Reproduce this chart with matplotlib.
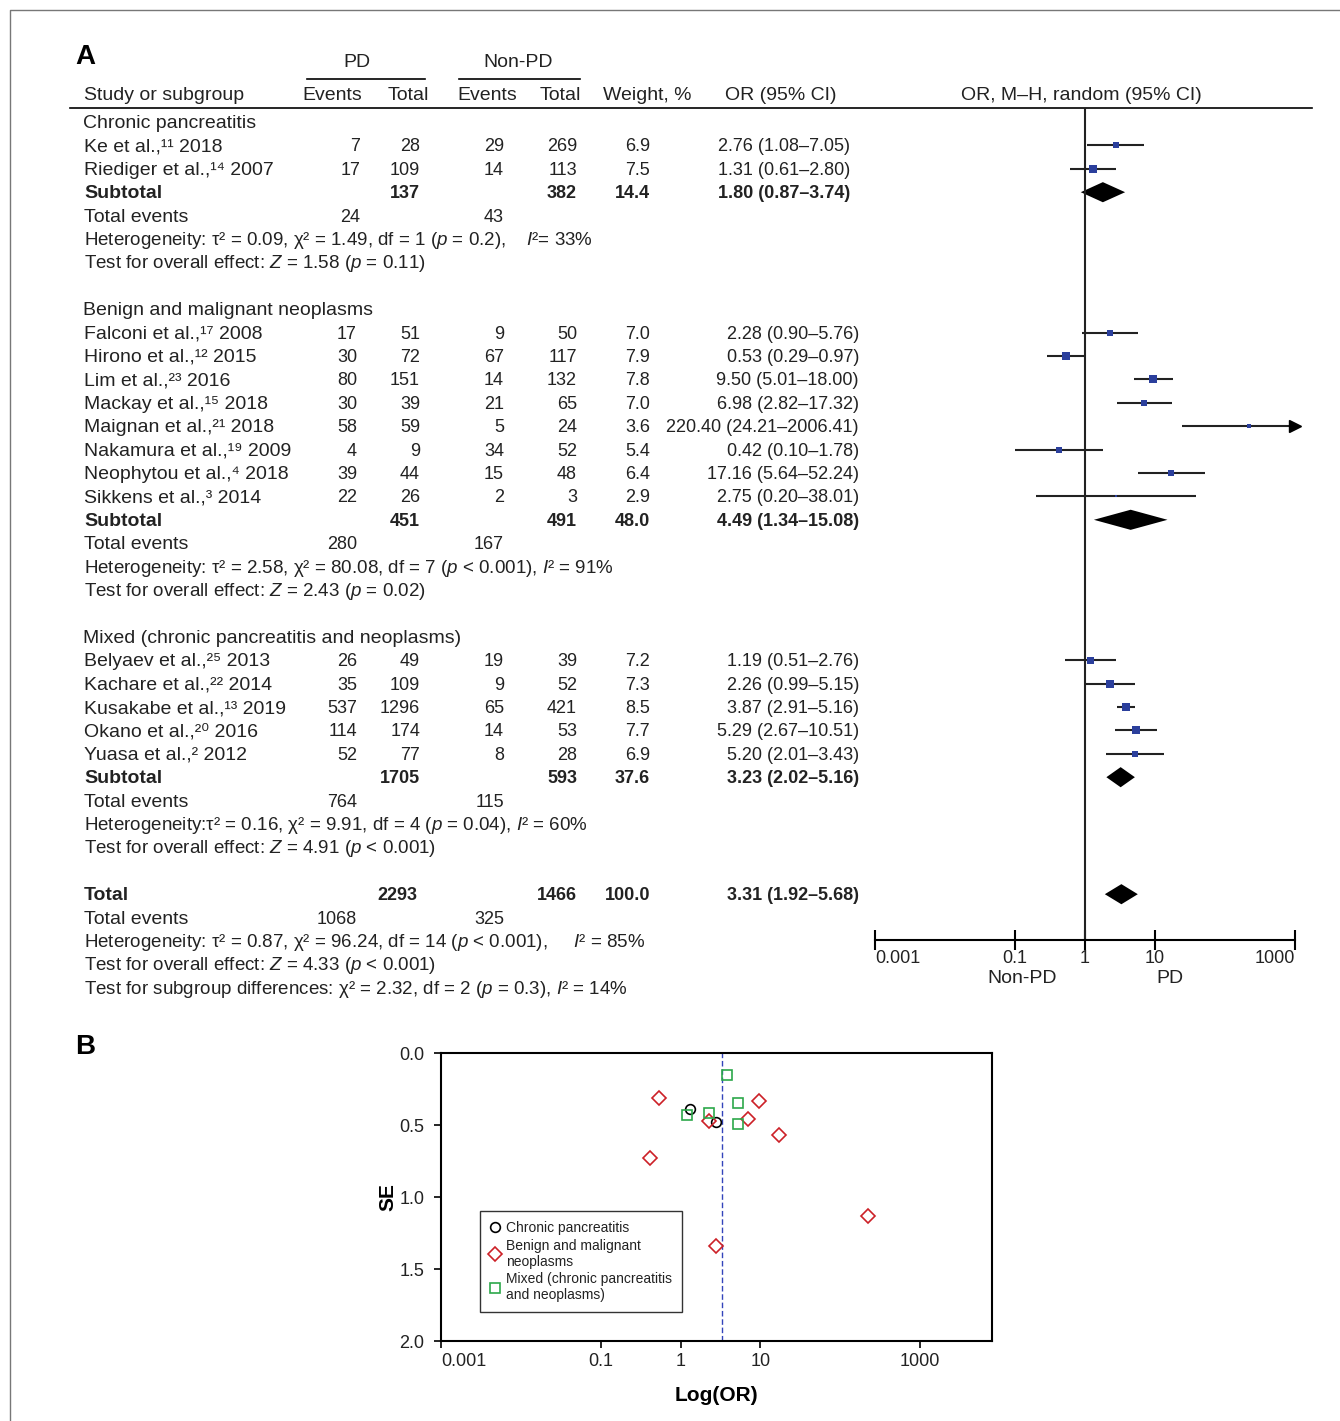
import matplotlib
matplotlib.use('Agg')
import matplotlib.pyplot as plt
from matplotlib.lines import Line2D
import numpy as np

plt.rcParams['font.family'] = ['Liberation Sans', 'DejaVu Sans']
plt.rcParams['mathtext.fontset'] = 'custom'
plt.rcParams['mathtext.rm'] = 'Liberation Sans'
plt.rcParams['mathtext.it'] = 'Liberation Sans:italic'
plt.rcParams['mathtext.bf'] = 'Liberation Sans:bold'

# ---- data ----
groups = ['Chronic pancreatitis', 'Benign and malignant neoplasms',
          'Mixed (chronic pancreatitis and neoplasms)']
authors = ['Ke', 'Riediger', 'Falconi', 'Hirono', 'Lim', 'Mackay', 'Maignan', 'Nakamura',
           'Neophytou', 'Sikkens', 'Belyaev', 'Kachare', 'Kusakabe', 'Okano', 'Yuasa']
refs = ['¹¹', '¹⁴', '¹⁷', '¹²', '²³', '¹⁵', '²¹', '¹⁹', '⁴', '³', '²⁵', '²²', '¹³', '²⁰', '²']
years = [2018, 2007, 2008, 2015, 2016, 2018, 2018, 2009, 2018, 2014, 2013, 2014, 2019, 2016, 2012]
group_of = [0, 0, 1, 1, 1, 1, 1, 1, 1, 1, 2, 2, 2, 2, 2]
pd_events = [7, 17, 17, 30, 80, 30, 58, 4, 39, 22, 26, 35, 537, 114, 52]
pd_total = [28, 109, 51, 72, 151, 39, 59, 9, 44, 26, 49, 109, 1296, 174, 77]
npd_events = [29, 14, 9, 67, 14, 21, 5, 34, 15, 2, 19, 9, 65, 14, 8]
npd_total = [269, 113, 50, 117, 132, 65, 24, 52, 48, 3, 39, 52, 421, 53, 28]
weight = [6.9, 7.5, 7.0, 7.9, 7.8, 7.0, 3.6, 5.4, 6.4, 2.9, 7.2, 7.3, 8.5, 7.7, 6.9]
odds = [2.76, 1.31, 2.28, 0.53, 9.50, 6.98, 220.40, 0.42, 17.16, 2.75, 1.19, 2.26, 3.87, 5.29, 5.20]
ci_low = [1.08, 0.61, 0.90, 0.29, 5.01, 2.82, 24.21, 0.10, 5.64, 0.20, 0.51, 0.99, 2.91, 2.67, 2.01]
ci_high = [7.05, 2.80, 5.76, 0.97, 18.00, 17.32, 2006.41, 1.78, 52.24, 38.01, 2.76, 5.15, 5.16,
           10.51, 13.43]
ci_text = ['2.76 (1.08–7.05)', '1.31 (0.61–2.80)', '2.28 (0.90–5.76)', '0.53 (0.29–0.97)',
           '9.50 (5.01–18.00)', '6.98 (2.82–17.32)', '220.40 (24.21–2006.41)', '0.42 (0.10–1.78)',
           '17.16 (5.64–52.24)', '2.75 (0.20–38.01)', '1.19 (0.51–2.76)', '2.26 (0.99–5.15)',
           '3.87 (2.91–5.16)', '5.29 (2.67–10.51)', '5.20 (2.01–3.43)']
se = [0.48, 0.39, 0.47, 0.31, 0.33, 0.46, 1.13, 0.73, 0.57, 1.34, 0.43, 0.42, 0.15, 0.35, 0.49]

sub_pd_total = [137, 451, 1705]
sub_npd_total = [382, 491, 593]
sub_weight = [14.4, 48.0, 37.6]
sub_or = [1.80, 4.49, 3.23]
sub_low = [0.87, 1.34, 2.02]
sub_high = [3.74, 15.08, 5.16]
sub_pd_events = [24, 280, 764]
sub_npd_events = [43, 167, 115]
het_text = ['Heterogeneity: τ² = 0.09, χ² = 1.49, df = 1 ($p$ = 0.2),    $I$²= 33%',
            'Heterogeneity: τ² = 2.58, χ² = 80.08, df = 7 ($p$ < 0.001), $I$² = 91%',
            'Heterogeneity:τ² = 0.16, χ² = 9.91, df = 4 ($p$ = 0.04), $I$² = 60%']
effect_text = ['Test for overall effect: $Z$ = 1.58 ($p$ = 0.11)',
               'Test for overall effect: $Z$ = 2.43 ($p$ = 0.02)',
               'Test for overall effect: $Z$ = 4.91 ($p$ < 0.001)']

total_pd, total_npd, total_weight = 2293, 1466, 100.0
total_or, total_low, total_high = 3.31, 1.92, 5.68
total_pd_events, total_npd_events = 1068, 325
total_het = 'Heterogeneity: τ² = 0.87, χ² = 96.24, df = 14 ($p$ < 0.001),     $I$² = 85%'
total_effect = 'Test for overall effect: $Z$ = 4.33 ($p$ < 0.001)'
subgroup_test = 'Test for subgroup differences: χ² = 2.32, df = 2 ($p$ = 0.3), $I$² = 14%'

forest_ticks = [0.001, 0.1, 1, 10, 1000]
funnel_ticks = [0.001, 0.1, 1, 10, 1000]

# ---- layout (pixels) ----
W, H = 1340, 1421
ROW0, ROWH = 122, 23.4
FS = 14      # labels
FN = 13      # numbers
FH = 13.5    # statistics lines
x_name = 84
x_ev1, x_tot1, x_ev2, x_tot2, x_wt = 357, 420, 504, 577, 650
x_or = [850, 859, 859]
TXT = '#222222'

fig = plt.figure(figsize=(W / 100, H / 100), dpi=100)
bg = fig.add_axes([0, 0, 1, 1])
bg.set_xlim(0, W)
bg.set_ylim(H, 0)
bg.axis('off')


def ry(k):
    return ROW0 + ROWH * k


def txt(x, k, s, ha='left', bold=False, size=FS):
    # baseline placed ~6 px below the visual centre of the line
    bg.text(x, ry(k) + 6, s, ha=ha, va='baseline', fontsize=size,
            fontweight='bold' if bold else 'normal', color=TXT)


# outer frame
bg.plot([10, 10, W + 5], [H + 5, 10, 10], color='#777777', lw=1)

# header
bg.text(75, 64, 'A', fontsize=20, fontweight='bold', va='baseline', ha='left')
bg.text(357, 67, 'PD', fontsize=FS, ha='center', va='baseline', color=TXT)
bg.text(518, 67, 'Non-PD', fontsize=FS, ha='center', va='baseline', color=TXT)
bg.plot([307, 425], [79, 79], color='black', lw=1.2)
bg.plot([459, 580], [79, 79], color='black', lw=1.2)
for xh, s in [(84, 'Study or subgroup'), (332, 'Events'), (408, 'Total'), (487, 'Events'),
              (560, 'Total'), (647, 'Weight, %'), (781, 'OR (95% CI)'),
              (1081, 'OR, M–H, random (95% CI)')]:
    bg.text(xh, 100, s, fontsize=FS, ha='left' if xh == 84 else 'center', va='baseline',
            color=TXT)
bg.plot([70, 1312], [108, 108], color='black', lw=1.2)

# forest axes
fx0, fx1, fy_top, fy_bot = 875, 1295, 108, 940
fax = fig.add_axes([fx0 / W, 1 - fy_bot / H, (fx1 - fx0) / W, (fy_bot - fy_top) / H])
fax.set_xscale('log')
fax.set_xlim(0.001, 1000)
fax.set_ylim((fy_bot - ROW0) / ROWH, (fy_top - ROW0) / ROWH)
fax.patch.set_alpha(0)
for sp in ['top', 'left', 'right']:
    fax.spines[sp].set_visible(False)
fax.spines['bottom'].set_linewidth(1.5)
fax.set_yticks([])
fax.set_xticks(forest_ticks)
fax.set_xticklabels(['0.001', '0.1', '1', '10', '1000'])
fax.minorticks_off()
fax.tick_params(axis='x', direction='inout', length=14, width=1.5, labelsize=FN, pad=0,
                labelcolor=TXT)
tl = fax.get_xticklabels()
tl[0].set_ha('left')
tl[-1].set_ha('right')
fax.axvline(1, color='#222222', lw=1.5)
bg.text(1022, 983, 'Non-PD', ha='center', va='baseline', fontsize=FS, color=TXT)
bg.text(1170, 983, 'PD', ha='center', va='baseline', fontsize=FS, color=TXT)


def draw_diamond(k, o, lo, hi):
    fax.fill([lo, o, hi, o], [k, k - 0.43, k, k + 0.43], color='black', lw=0)


k = 0
for g in range(3):
    txt(83, k, groups[g])
    k += 1
    for i in [j for j in range(len(authors)) if group_of[j] == g]:
        off = 3 if g == 0 else 0
        txt(x_name, k, f'{authors[i]} et al.,{refs[i]} {years[i]}')
        txt(x_ev1 + off, k, str(pd_events[i]), ha='right', size=FN)
        txt(x_tot1, k, str(pd_total[i]), ha='right', size=FN)
        txt(x_ev2, k, str(npd_events[i]), ha='right', size=FN)
        txt(x_tot2, k, str(npd_total[i]), ha='right', size=FN)
        txt(x_wt, k, f'{weight[i]:.1f}', ha='right', size=FN)
        txt(x_or[g], k, ci_text[i], ha='right', size=FN)
        hi = min(ci_high[i], 1000)
        fax.plot([ci_low[i], hi], [k, k], color='#222222', lw=1.5, solid_capstyle='butt')
        if ci_high[i] > 1000:
            fax.plot(1000, k, marker='>', ms=9, color='black', clip_on=False)
        fax.plot(odds[i], k, marker='s', ms=weight[i] * 0.7, color='#2b3f9c', mew=0, ls='')
        k += 1
    txt(x_name, k, 'Subtotal', bold=True)
    txt(x_tot1, k, str(sub_pd_total[g]), ha='right', bold=True, size=FN)
    txt(x_tot2, k, str(sub_npd_total[g]), ha='right', bold=True, size=FN)
    txt(x_wt, k, f'{sub_weight[g]:.1f}', ha='right', bold=True, size=FN)
    txt(x_or[g], k, f'{sub_or[g]:.2f} ({sub_low[g]:.2f}–{sub_high[g]:.2f})', ha='right',
        bold=True, size=FN)
    draw_diamond(k, sub_or[g], sub_low[g], sub_high[g])
    k += 1
    txt(x_name, k, 'Total events')
    txt(x_ev1 + (3 if g == 0 else 0), k, str(sub_pd_events[g]), ha='right', size=FN)
    txt(x_ev2, k, str(sub_npd_events[g]), ha='right', size=FN)
    k += 1
    txt(x_name, k, het_text[g], size=FH)
    k += 1
    txt(x_name, k, effect_text[g], size=FH)
    k += 2

txt(x_name, k, 'Total', bold=True)
txt(x_tot1 - 3, k, str(total_pd), ha='right', bold=True, size=FN)
txt(x_tot2, k, str(total_npd), ha='right', bold=True, size=FN)
txt(x_wt, k, f'{total_weight:.1f}', ha='right', bold=True, size=FN)
txt(859, k, f'{total_or:.2f} ({total_low:.2f}–{total_high:.2f})', ha='right', bold=True,
    size=FN)
draw_diamond(k, total_or, total_low, total_high)
k += 1
txt(x_name, k, 'Total events')
txt(x_ev1, k, str(total_pd_events), ha='right', size=FN)
txt(x_ev2, k, str(total_npd_events), ha='right', size=FN)
k += 1
txt(x_name, k, total_het, size=FH)
k += 1
txt(x_name, k, total_effect, size=FH)
k += 1
txt(x_name, k, subgroup_test, size=FH)

# ---- panel B: funnel plot ----
bg.text(75, 1054, 'B', fontsize=20, fontweight='bold', va='baseline', ha='left')
px0, px1, py0, py1 = 441, 992, 1053, 1341
pax = fig.add_axes([px0 / W, 1 - py1 / H, (px1 - px0) / W, (py1 - py0) / H])
pax.set_xscale('log')
pax.set_xlim(0.001, 10 ** 3.9)
pax.set_ylim(2.0, 0.0)
for sp in pax.spines.values():
    sp.set_linewidth(1.5)
pax.set_xticks(funnel_ticks)
pax.set_xticklabels(['0.001', '0.1', '1', '10', '1000'])
pax.get_xticklabels()[0].set_ha('left')
pax.minorticks_off()
pax.set_yticks([0.0, 0.5, 1.0, 1.5, 2.0])
pax.set_yticklabels(['0.0', '0.5', '1.0', '1.5', '2.0'])
pax.tick_params(direction='out', length=5, width=1.2, labelsize=FN, labelcolor=TXT)
pax.tick_params(axis='y', pad=7)
pax.set_xlabel('Log(OR)', fontsize=15, fontweight='bold', labelpad=12)
pax.set_ylabel('SE', fontsize=15, fontweight='bold', labelpad=1)
pax.axvline(total_or, color='#3344bb', lw=1, ls=(0, (4, 2)))

styles = [dict(marker='o', color='black', ms=7),
          dict(marker='D', color='#cc2027', ms=7),
          dict(marker='s', color='#2ca84a', ms=7)]
for g in range(3):
    xs = [odds[i] for i in range(len(odds)) if group_of[i] == g]
    ys = [se[i] for i in range(len(se)) if group_of[i] == g]
    st = styles[g]
    pax.plot(xs, ys, ls='', marker=st['marker'], ms=st['ms'], mfc='none',
             mec=st['color'], mew=1.2)

handles = [Line2D([], [], ls='', marker=st['marker'], ms=7, mfc='none', mec=st['color'],
                  mew=1.2) for st in styles]
leg = pax.legend(handles, ['Chronic pancreatitis', 'Benign and malignant\nneoplasms',
                           'Mixed (chronic pancreatitis\nand neoplasms)'],
                 loc='lower left', bbox_to_anchor=(0.07, 0.1), fontsize=10, frameon=True,
                 fancybox=False, edgecolor='black', handlelength=0.8, handletextpad=0.4,
                 borderpad=0.7, labelspacing=0.25, borderaxespad=0)
leg.get_frame().set_linewidth(1)
for t in leg.get_texts():
    t.set_linespacing(1.2)
    t.set_color(TXT)

fig.savefig('out.png', dpi=100)
